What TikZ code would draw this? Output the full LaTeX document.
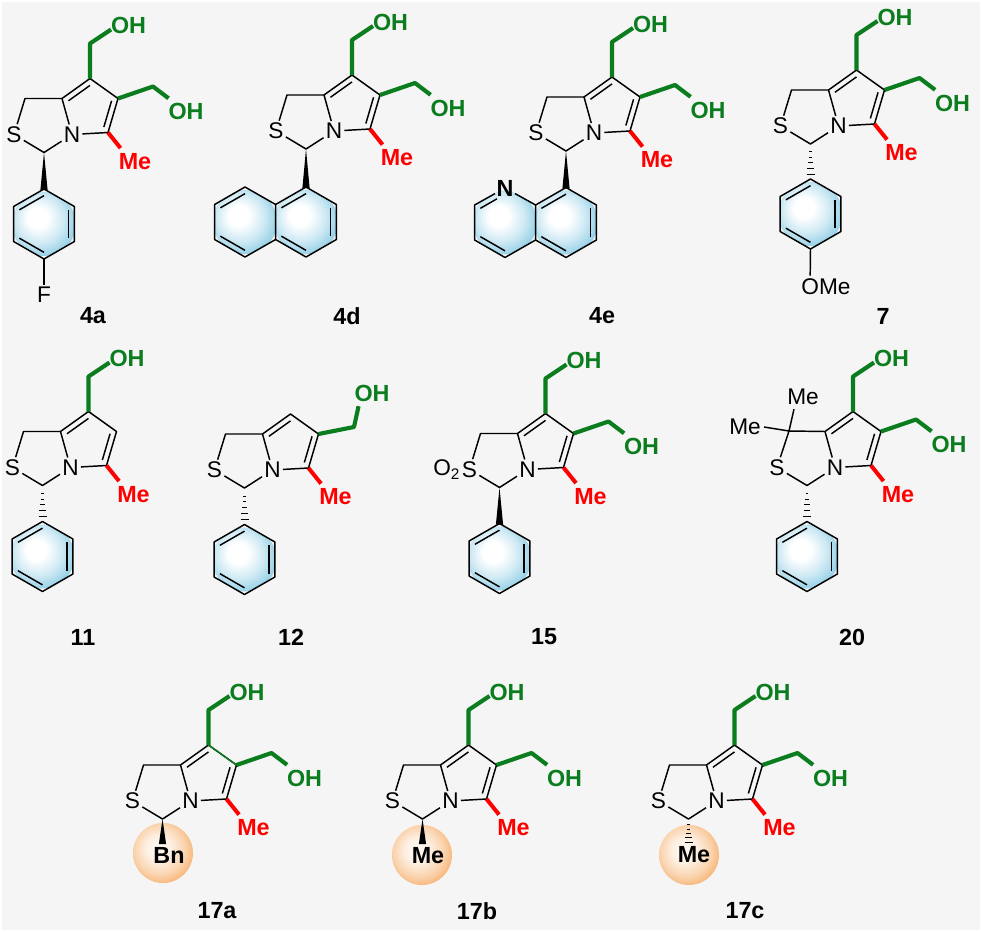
\documentclass[tikz,border=0pt]{standalone}
\usepackage{fontspec}
\setmainfont{Liberation Sans}
\usetikzlibrary{calc}
\definecolor{okgreen}{HTML}{0B7D1F}
\definecolor{okred}{HTML}{FF0000}
\definecolor{arblue}{HTML}{9CD3E8}
\definecolor{ballor}{HTML}{F7B77A}
\definecolor{paper}{HTML}{F5F5F5}
\pgfdeclareradialshading{arom}{\pgfpoint{-6bp}{6bp}}{color(0bp)=(white); color(8bp)=(white); color(19bp)=(arblue!50!white); color(27bp)=(arblue); color(50bp)=(arblue)}
\pgfdeclareradialshading{orball}{\pgfpoint{-5bp}{5bp}}{color(0bp)=(white!90!ballor); color(10bp)=(white!80!ballor); color(21bp)=(ballor!60!white); color(28bp)=(ballor); color(50bp)=(ballor)}
\tikzset{
  x=0.75pt,y=-0.75pt,
  bond/.style={line width=1.1pt,line join=round,black},
  hbond/.style={line width=3.1pt,line join=round,okgreen},
  mbond/.style={line width=3pt,okred},
  atom/.style={inner sep=1.5pt,font=\fontsize{17}{18}\selectfont,text=black},
  batom/.style={inner sep=1pt,font=\fontsize{17.5}{18}\selectfont\bfseries,text=black},
  ohl/.style={inner sep=0.5pt,font=\fontsize{17.5}{18}\selectfont\bfseries,text=okgreen},
  mel/.style={inner sep=0pt,font=\fontsize{17.5}{18}\selectfont\bfseries,text=okred},
  cmpd/.style={inner sep=0pt,font=\fontsize{17.5}{18}\selectfont\bfseries,text=black}
}
\newcommand{\innerbond}[4]{\draw[bond] ($(#1)!#4!(#2)$) -- ($(#1)!#4!(#3)$);}
% bicyclic core
\newcommand{\skeleton}[3]{%
 \begin{scope}[shift={(#2,#3)}]
  \node[atom] (#1N) at (0,0) {N};
  \node[atom] (#1S) at (-58,0) {S};
  \coordinate (#1A) at (-10,-36);
  \coordinate (#1B) at (18,-56);
  \coordinate (#1C) at (46,-36);
  \coordinate (#1D) at (36,-2);
  \coordinate (#1E) at (-28,18);
  \coordinate (#1P) at (18,-26);
  \draw[bond] (#1N) -- (#1A) -- (#1B) -- (#1C) -- (#1D) -- (#1N);
  \draw[bond] (#1N) -- (#1E) -- (#1S);
  \innerbond{#1P}{#1A}{#1B}{0.77}
  \innerbond{#1P}{#1C}{#1D}{0.77}
  \node[mel] (#1Me) at (63,27) {Me};
  \draw[mbond] (#1D) -- ([shift={(2,-5)}]#1Me.north west);
 \end{scope}}
\newcommand{\methylene}[3]{% plain CH2 closing the thiazolidine
 \begin{scope}[shift={(#2,#3)}]
  \coordinate (#1F) at (-47,-36);
  \draw[bond] (#1S) -- (#1F) -- (#1A);
 \end{scope}}
\newcommand{\topOH}[3]{%
 \begin{scope}[shift={(#2,#3)}]
  \coordinate (#1G) at (18,-91);
  \node[ohl] (#1OHa) at (56.5,-109) {OH};
  \draw[hbond] (#1B) -- (#1G) -- ([shift={(1,4)}]#1OHa.west);
 \end{scope}}
\newcommand{\rightOH}[3]{%
 \begin{scope}[shift={(#2,#3)}]
  \coordinate (#1H) at (81,-48);
  \node[ohl] (#1OHb) at (114,-23) {OH};
  \draw[hbond] (#1C) -- (#1H) -- ([shift={(1,-4)}]#1OHb.north west);
 \end{scope}}
% shaded hexagon
\newcommand{\hexring}[3]{%
 \begin{scope}[shift={(#2,#3)}]
  \coordinate (#1c) at (0,0);
  \coordinate (#1t) at (0,-35);
  \coordinate (#1ur) at (30.4,-17.5);
  \coordinate (#1lr) at (30.4,17.5);
  \coordinate (#1b) at (0,35);
  \coordinate (#1ll) at (-30.4,17.5);
  \coordinate (#1ul) at (-30.4,-17.5);
  \begin{scope}
   \clip (#1t) -- (#1ur) -- (#1lr) -- (#1b) -- (#1ll) -- (#1ul) -- cycle;
   \shade[shading=arom] (#1c) circle (32);
  \end{scope}
 \end{scope}}
\newcommand{\hexbonds}[1]{%
 \draw[bond] (#1t) -- (#1ur) -- (#1lr) -- (#1b) -- (#1ll) -- (#1ul) -- cycle;
 \innerbond{#1c}{#1t}{#1ul}{0.81}
 \innerbond{#1c}{#1ur}{#1lr}{0.81}
 \innerbond{#1c}{#1b}{#1ll}{0.81}}
\newcommand{\wedgebond}[2]{\fill[black] (#1) -- ($(#2)+(-3.6,1)$) -- ($(#2)+(3.6,1)$) -- cycle;}
\newcommand{\hashbond}[2]{%
 \foreach \f/\w in {0.22/1.2,0.38/1.9,0.54/2.6,0.70/3.3,0.86/4.0}
  \draw[line width=0.8pt,black] ($(#1)!\f!(#2)+(-\w,0)$) -- ($(#1)!\f!(#2)+(\w,0)$);}
\newcommand{\orballat}[4]{\shade[shading=orball] (#2,#3) circle (#4); \coordinate (#1) at (#2,#3);}
\begin{document}
\begin{tikzpicture}
\useasboundingbox (0,0) rectangle (981,932);
\fill[white] (0,0) rectangle (981,932);
\fill[paper] (2,2) rectangle (980,930);

% 4a
\hexring{aa}{44}{224}
\skeleton{a}{72}{134.5}\methylene{a}{72}{134.5}\topOH{a}{72}{134.5}\rightOH{a}{72}{134.5}
\wedgebond{aE}{aat}
\hexbonds{aa}
\node[atom] (aF1) at (44,295) {F};
\draw[bond] (aab) -- (aF1);
\node[cmpd] (l4a) at (93,316) {4a};

% 4d
\hexring{db}{245}{222}\hexring{da}{306}{222}
\skeleton{d}{334}{131}\methylene{d}{334}{131}\topOH{d}{334}{131}\rightOH{d}{334}{131}
\wedgebond{dE}{dat}
\hexbonds{da}
\draw[bond] (daul) -- (dbt) -- (dbul) -- (dbll) -- (dbb) -- (dall);
\innerbond{dbc}{dbt}{dbul}{0.81}
\innerbond{dbc}{dbb}{dbll}{0.81}
\node[cmpd] (l4d) at (347,316) {4d};

% 4e
\hexring{eb}{505}{222.5}\hexring{ea}{566}{222.5}
\skeleton{e}{594}{133}\methylene{e}{594}{133}\topOH{e}{594}{133}\rightOH{e}{594}{133}
\wedgebond{eE}{eat}
\hexbonds{ea}
\node[batom] (eNq) at (505,188) {N};
\draw[bond] (eNq) -- (ebul) -- (ebll) -- (ebb) -- (eall);
\draw[bond] (eNq) -- (eaul);
\draw[bond,shorten >=7pt] ($(ebc)!0.81!(ebul)$) -- ($(ebc)!0.81!(ebt)$);
\innerbond{ebc}{ebb}{ebll}{0.81}
\node[cmpd] (l4e) at (602,316) {4e};

% 7
\hexring{fa}{810.5}{214}
\skeleton{f}{838.5}{126}\methylene{f}{838.5}{126}\topOH{f}{838.5}{126}\rightOH{f}{838.5}{126}
\hashbond{fE}{fat}
\hexbonds{fa}
\node[atom,inner sep=0pt] (fOMe) at (826,287) {OMe};
\draw[bond] (fab) -- ([shift={(9,-3)}]fOMe.north west);
\node[cmpd] (l7) at (883,316) {7};

% 11
\hexring{ga}{42.5}{556.5}
\skeleton{g}{70.5}{467.5}\methylene{g}{70.5}{467.5}\topOH{g}{70.5}{467.5}
\hashbond{gE}{gat}
\hexbonds{ga}
\node[cmpd] (l11) at (83,637) {11};

% 12
\hexring{ha}{244.5}{559.5}
\skeleton{h}{272.5}{470}\methylene{h}{272.5}{470}
\begin{scope}[shift={(272.5,470)}]
 \coordinate (hH) at (81.5,-43);
 \node[ohl] (hOH) at (99.5,-77) {OH};
 \draw[hbond] (hC) -- (hH) -- ([shift={(5,4)}]hOH.south west);
\end{scope}
\hashbond{hE}{hat}
\hexbonds{ha}
\node[cmpd] (l12) at (291,637) {12};

% 15
\hexring{ka}{499.5}{558.5}
\skeleton{k}{527.5}{469.5}\methylene{k}{527.5}{469.5}\topOH{k}{527.5}{469.5}\rightOH{k}{527.5}{469.5}
\node[atom,anchor=east,inner sep=0pt] (kO) at (kS.west) {O\raisebox{-3pt}{\fontsize{11.5}{12}\selectfont 2}};
\wedgebond{kE}{kat}
\hexbonds{ka}
\node[cmpd] (l15) at (544,637) {15};

% 20
\hexring{ma}{807}{556.5}
\skeleton{m}{835}{467.5}\topOH{m}{835}{467.5}\rightOH{m}{835}{467.5}
\begin{scope}[shift={(835,467.5)}]
 \coordinate (mF) at (-46,-36.5);
 \draw[bond] (mS) -- (mF) -- (mA);
 \node[atom,inner sep=0pt] (mMeA) at (-32,-70.5) {Me};
 \node[atom,inner sep=0pt] (mMeB) at (-90,-40.5) {Me};
 \draw[bond] (mF) -- ([shift={(7,4)}]mMeA.south west);
 \draw[bond] (mF) -- ([shift={(3,0)}]mMeB.east);
\end{scope}
\hashbond{mE}{mat}
\hexbonds{ma}
\node[cmpd] (l20) at (852,637) {20};

% 17a
\orballat{nball}{163}{853}{30}
\skeleton{n}{190.5}{801}\methylene{n}{190.5}{801}\topOH{n}{190.5}{801}\rightOH{n}{190.5}{801}
\draw[line width=1.1pt,okgreen] (nB) -- (nC);
\coordinate (nT) at (162.5,843);
\wedgebond{nE}{nT}
\node[batom] (nBn) at (169,855) {Bn};
\node[cmpd] (l17a) at (217,911) {17a};

% 17b
\orballat{pball}{422}{855}{30}
\skeleton{p}{450.5}{801}\methylene{p}{450.5}{801}\topOH{p}{450.5}{801}\rightOH{p}{450.5}{801}
\coordinate (pT) at (422.5,843);
\wedgebond{pE}{pT}
\node[batom] (pMeb) at (428,856) {Me};
\node[cmpd] (l17b) at (477,911) {17b};

% 17c
\orballat{qball}{689}{855}{30}
\skeleton{q}{716.5}{801}\methylene{q}{716.5}{801}\topOH{q}{716.5}{801}\rightOH{q}{716.5}{801}
\coordinate (qT) at (688.5,846);
\hashbond{qE}{qT}
\node[batom] (qMeb) at (694,855) {Me};
\node[cmpd] (l17c) at (745,911) {17c};
\end{tikzpicture}
\end{document}
